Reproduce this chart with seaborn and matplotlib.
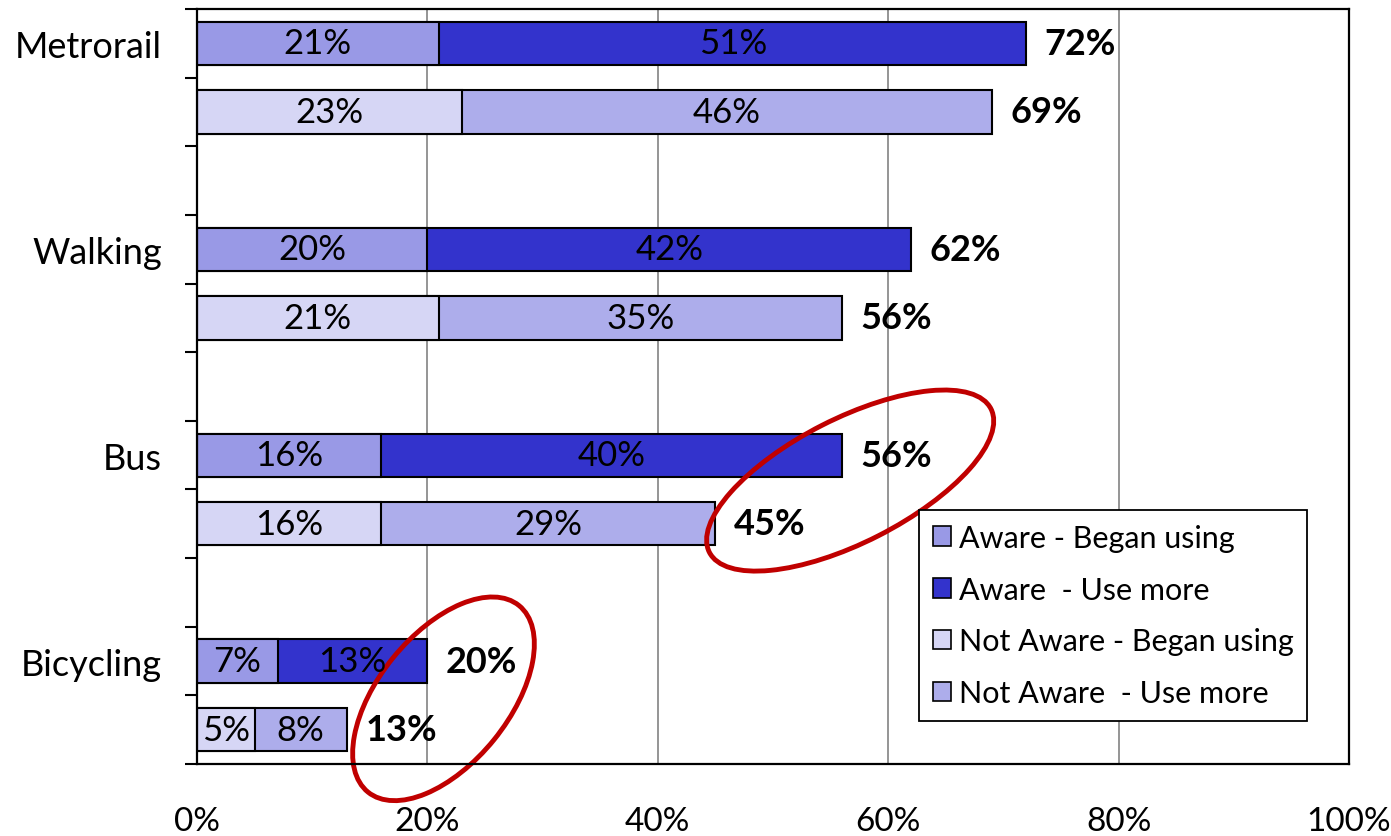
import pandas as pd
import matplotlib.pyplot as plt
import seaborn as sns
from matplotlib.patches import Patch, Ellipse
from matplotlib.transforms import ScaledTranslation

# data (percent)
modes = ["Metrorail", "Walking", "Bus", "Bicycling"]
aware_began = [21, 20, 16, 7]
aware_more = [51, 42, 40, 13]
notaware_began = [23, 21, 16, 5]
notaware_more = [46, 35, 29, 8]
x_ticks = [0, 20, 40, 60, 80, 100]
legend_labels = ["Aware - Began using", "Aware  - Use more",
                 "Not Aware - Began using", "Not Aware  - Use more"]

c_aw_began = "#9999E6"
c_aw_more = "#3333CC"
c_na_began = "#D6D6F5"
c_na_more = "#ADADEB"

rows = []
for i, m in enumerate(modes):
    rows.append(dict(mode=m, pos=3 * i, began=aware_began[i], more=aware_more[i], group="Aware"))
    rows.append(dict(mode=m, pos=3 * i + 1, began=notaware_began[i], more=notaware_more[i], group="Not Aware"))
df = pd.DataFrame(rows)
df["total"] = df["began"] + df["more"]

sns.set_style("white")
plt.rcParams["font.family"] = ["Lato", "DejaVu Sans"]
plt.rcParams["text.color"] = "black"
plt.rcParams["xtick.color"] = "black"
plt.rcParams["ytick.color"] = "black"

fig = plt.figure(figsize=(13.91, 8.37), dpi=100)
ax = fig.add_axes([0.1416, 0.086, 0.8282, 0.902])

# full bars first (use more colour), then the "began using" part on top
sns.barplot(data=df, x="total", y="pos", hue="group", orient="h", native_scale=True,
            palette={"Aware": c_aw_more, "Not Aware": c_na_more}, dodge=False, saturation=1,
            width=0.63, edgecolor="black", linewidth=1.5, errorbar=None, legend=False, ax=ax)
sns.barplot(data=df, x="began", y="pos", hue="group", orient="h", native_scale=True,
            palette={"Aware": c_aw_began, "Not Aware": c_na_began}, dodge=False, saturation=1,
            width=0.63, edgecolor="black", linewidth=1.5, errorbar=None, legend=False, ax=ax)

for _, r in df.iterrows():
    ax.text(r["began"] / 2, r["pos"], f"{r['began']}%", ha="center", va="center", fontsize=25)
    ax.text(r["began"] + r["more"] / 2, r["pos"], f"{r['more']}%", ha="center", va="center", fontsize=25)
    ax.text(r["total"] + 1.6, r["pos"], f"{r['total']}%", ha="left", va="center",
            fontsize=26, fontweight="bold")

ax.set_xlim(0, 100)
ax.set_ylim(10.5, -0.5)
ax.set_xticks(x_ticks)
ax.set_xticklabels([f"{v}%" for v in x_ticks], fontsize=24)
ax.tick_params(axis="x", length=0, pad=30)
ax.set_yticks([0, 3, 6, 9])
ax.set_yticklabels(modes, fontsize=26)
ax.set_yticks([i - 0.5 for i in range(12)], minor=True)
ax.tick_params(axis="y", which="major", length=0, pad=25)
ax.tick_params(axis="y", which="minor", length=9, width=1.5, direction="out", color="black", left=True)
ax.set_xlabel("")
ax.set_ylabel("")
ax.grid(axis="x", color="#8c8c8c", linewidth=1.3)
ax.set_axisbelow(True)
for s in ax.spines.values():
    s.set_color("black")
    s.set_linewidth(1.6)

# red highlight rings
for cx, cy, w, h, ang in [(56.7, 6.37, 3.16, 1.24, 27), (21.4, 9.55, 2.40, 1.30, 51)]:
    tr = fig.dpi_scale_trans + ScaledTranslation(cx, cy, ax.transData)
    ax.add_patch(Ellipse((0, 0), w, h, angle=ang, fill=False, edgecolor="#C00000",
                         linewidth=3.5, transform=tr, clip_on=False))

handles = [Patch(facecolor=c, edgecolor="black", linewidth=1.2)
           for c in [c_aw_began, c_aw_more, c_na_began, c_na_more]]
leg = ax.legend(handles, legend_labels, loc="upper left", bbox_to_anchor=(919 / 1391, 1 - 511 / 837),
                bbox_transform=fig.transFigure, fontsize=22, frameon=True, fancybox=False,
                edgecolor="black", framealpha=1, handlelength=0.6, handleheight=0.6,
                handletextpad=0.25, labelspacing=0.78, borderpad=0.45, borderaxespad=0)
leg.get_frame().set_linewidth(1.3)

fig.savefig("out.png", dpi=100)
